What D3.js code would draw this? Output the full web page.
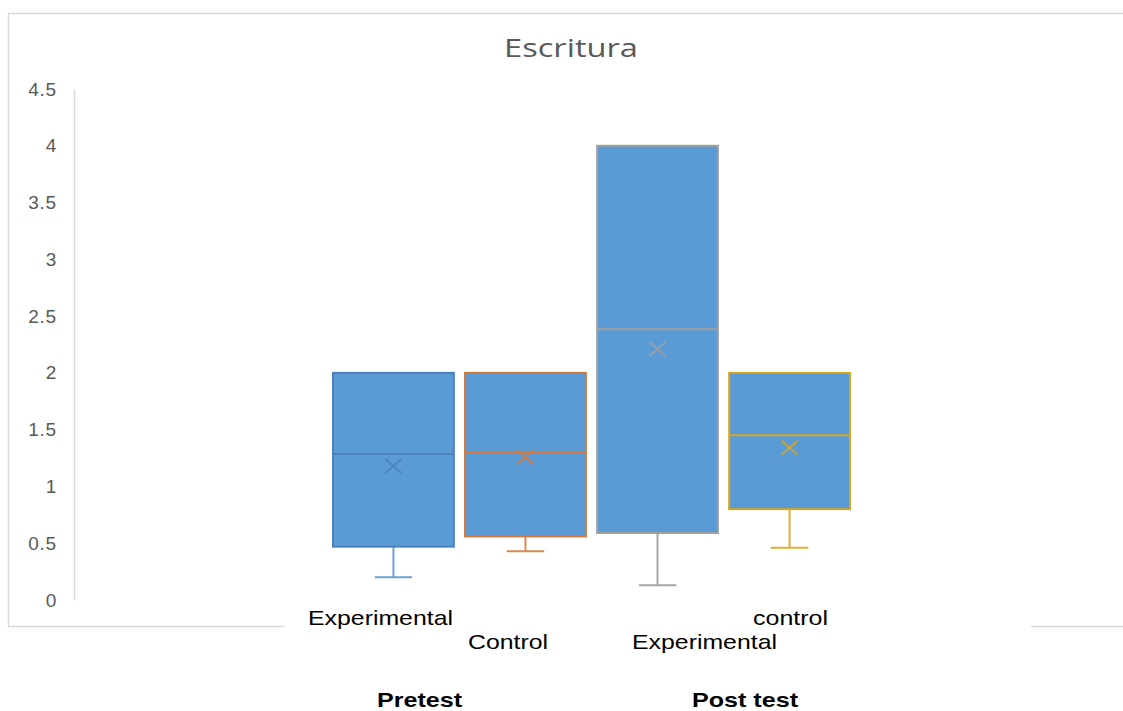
<!DOCTYPE html>
<html>
<head>
<meta charset="utf-8">
<script src="https://cdn.jsdelivr.net/npm/d3@7"></script>
<style>
  html, body { margin: 0; padding: 0; background: #fff; }
  svg { display: block; }
</style>
</head>
<body>
<svg id="chart" width="1123" height="711"></svg>
<script>
// Box-and-whisker summary for "Escritura", pre and post test
const series   = ["Experimental (Pretest)", "Control (Pretest)", "Experimental (Post test)", "control (Post test)"];
const minVals  = [0.20, 0.43, 0.13, 0.46];
const q1Vals   = [0.47, 0.56, 0.59, 0.80];
const medians  = [1.285, 1.30, 2.385, 1.45];
const q3Vals   = [2.00, 2.00, 4.00, 2.00];
const maxVals  = [2.00, 2.00, 4.00, 2.00];
const means    = [1.18, 1.26, 2.21, 1.34];
const lineColors    = ["#4A81BA", "#D4773A", "#A0A0A0", "#D9A520"];
const whiskerColors = ["#6FA1D3", "#D98A52", "#A6A6A6", "#DDB037"];
const yTicks   = [0, 0.5, 1, 1.5, 2, 2.5, 3, 3.5, 4, 4.5];
const tickText = ["0", "0.5", "1", "1.5", "2", "2.5", "3", "3.5", "4", "4.5"];
const catRow1  = ["Experimental", "control"];
const catRow2  = ["Control", "Experimental"];
const groups   = ["Pretest", "Post test"];

const svg = d3.select("#chart");

// chart frame (open on the right)
const frame = svg.append("g");
frame.append("path")
  .attr("d", "M1123,13.5 H8.5 V626.5 H1123")
  .attr("fill", "none").attr("stroke", "#d9d9d9").attr("stroke-width", 1.5);

// title
svg.append("text")
  .attr("x", 571).attr("y", 57)
  .attr("text-anchor", "middle")
  .attr("font-family", "'Open Sans', 'DejaVu Sans', sans-serif")
  .attr("font-size", 25)
  .attr("fill", "#595959")
  .attr("textLength", 134).attr("lengthAdjust", "spacingAndGlyphs")
  .text("Escritura");

// scales
const y = d3.scaleLinear().domain([0, 4.5]).range([600, 89]);
const x = d3.scaleBand().domain(series).range([333, 850]).paddingInner(0.085).paddingOuter(0);

// value axis
const yAxis = d3.axisLeft(y).tickValues(yTicks).tickSize(0).tickPadding(17)
  .tickFormat((d, i) => tickText[i]);
const gy = svg.append("g").attr("transform", "translate(74,0)").call(yAxis);
gy.select(".domain").attr("stroke", "#d9d9d9").attr("stroke-width", 1.5);
gy.selectAll("text")
  .attr("font-family", "'Liberation Sans', Arial, sans-serif")
  .attr("font-size", 19)
  .attr("letter-spacing", "0.8px")
  .attr("fill", "#595959");

// boxes
const bw = x.bandwidth();
const capW = bw * 0.31;
const boxes = svg.append("g").selectAll("g")
  .data(series.map((s, i) => ({ s, i })))
  .join("g");

// lower whisker
boxes.append("line")
  .attr("x1", d => x(d.s) + bw / 2).attr("x2", d => x(d.s) + bw / 2)
  .attr("y1", d => y(q1Vals[d.i])).attr("y2", d => y(minVals[d.i]))
  .attr("stroke", d => whiskerColors[d.i]).attr("stroke-width", 2);
boxes.append("line")
  .attr("x1", d => x(d.s) + bw / 2 - capW / 2).attr("x2", d => x(d.s) + bw / 2 + capW / 2)
  .attr("y1", d => y(minVals[d.i])).attr("y2", d => y(minVals[d.i]))
  .attr("stroke", d => whiskerColors[d.i]).attr("stroke-width", 2);
// upper whisker (zero length when max equals Q3)
boxes.append("line")
  .attr("x1", d => x(d.s) + bw / 2).attr("x2", d => x(d.s) + bw / 2)
  .attr("y1", d => y(q3Vals[d.i])).attr("y2", d => y(maxVals[d.i]))
  .attr("stroke", d => whiskerColors[d.i]).attr("stroke-width", 2);

// interquartile box
boxes.append("rect")
  .attr("x", d => x(d.s)).attr("width", bw)
  .attr("y", d => y(q3Vals[d.i]))
  .attr("height", d => y(q1Vals[d.i]) - y(q3Vals[d.i]))
  .attr("fill", "#5B9BD5")
  .attr("stroke", d => lineColors[d.i]).attr("stroke-width", 2);

// median
boxes.append("line")
  .attr("x1", d => x(d.s)).attr("x2", d => x(d.s) + bw)
  .attr("y1", d => y(medians[d.i])).attr("y2", d => y(medians[d.i]))
  .attr("stroke", d => lineColors[d.i]).attr("stroke-width", 2);

// mean marker
const mk = 8, mh = 7;
boxes.append("path")
  .attr("d", d => {
    const cx = x(d.s) + bw / 2, cy = y(means[d.i]);
    return `M${cx - mk},${cy - mh}L${cx + mk},${cy + mh}M${cx - mk},${cy + mh}L${cx + mk},${cy - mh}`;
  })
  .attr("fill", "none")
  .attr("stroke", d => lineColors[d.i]).attr("stroke-width", 2).attr("opacity", 0.85);

// category label panel
svg.append("rect")
  .attr("x", 285).attr("y", 603).attr("width", 746).attr("height", 108)
  .attr("fill", "#fff");

const labelFont = "'Liberation Sans', Arial, sans-serif";
const row1 = [
  { t: catRow1[0], x: 308, w: 145 },
  { t: catRow1[1], x: 753, w: 75 }
];
const row2 = [
  { t: catRow2[0], x: 468, w: 80 },
  { t: catRow2[1], x: 632, w: 145 }
];
const row3 = [
  { t: groups[0], x: 377, w: 85 },
  { t: groups[1], x: 692, w: 106 }
];

function drawRow(items, baseline, bold) {
  svg.append("g").selectAll("text").data(items).join("text")
    .attr("x", d => d.x).attr("y", baseline)
    .attr("font-family", labelFont)
    .attr("font-size", 21)
    .attr("font-weight", bold ? "bold" : "normal")
    .attr("fill", "#000")
    .attr("textLength", d => d.w).attr("lengthAdjust", "spacingAndGlyphs")
    .text(d => d.t);
}
drawRow(row1, 625, false);
drawRow(row2, 649, false);
drawRow(row3, 707, true);
</script>
</body>
</html>
